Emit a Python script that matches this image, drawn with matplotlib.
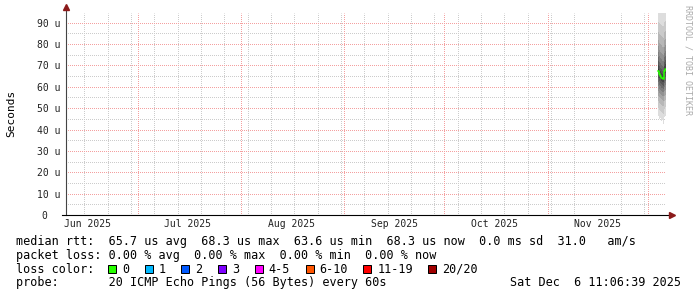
import numpy as np
import matplotlib
matplotlib.use("Agg")
from matplotlib import pyplot as plt
import matplotlib.dates as mdates
from matplotlib.patches import Rectangle
from matplotlib.ticker import MultipleLocator, FuncFormatter
from datetime import datetime, timedelta

W, H = 697, 297
MONO = "DejaVu Sans Mono"

# graph window: last 180 days
end_time = datetime(2025, 12, 6, 11, 6, 39)
start_time = end_time - timedelta(days=180)

# consolidated steps that hold data
step_starts = ["2025-12-04 00:00", "2025-12-04 07:24", "2025-12-04 14:48", "2025-12-04 22:12",
               "2025-12-05 05:36", "2025-12-05 13:00", "2025-12-05 20:24", "2025-12-06 03:48"]

# 20 sorted ping rtts per step, microseconds
pings = [
    [46.5, 50.2, 53.4, 55.8, 58.1, 60.3, 62.2, 64.0, 65.9, 67.1, 68.5, 70.2, 72.0, 74.1, 76.3, 78.9, 82.0, 85.7, 90.4, 97.0],
    [44.8, 49.1, 52.5, 55.0, 57.2, 59.0, 60.9, 62.6, 64.2, 65.4, 66.6, 68.0, 69.7, 71.8, 74.2, 77.1, 80.6, 84.9, 89.8, 96.5],
    [45.3, 48.6, 52.0, 54.6, 56.7, 58.5, 60.2, 61.9, 63.5, 64.6, 65.8, 67.2, 68.9, 71.0, 73.5, 76.4, 79.9, 84.2, 89.3, 95.8],
    [43.9, 48.0, 51.4, 54.1, 56.2, 58.0, 59.6, 61.2, 62.8, 63.9, 65.1, 66.5, 68.2, 70.3, 72.9, 75.8, 79.4, 83.8, 88.9, 96.1],
    [44.5, 47.7, 51.0, 53.7, 55.9, 57.7, 59.3, 60.9, 62.4, 63.5, 64.5, 65.9, 67.6, 69.7, 72.2, 75.2, 78.8, 83.3, 88.6, 95.4],
    [42.8, 47.3, 50.8, 53.5, 55.6, 57.4, 59.0, 60.5, 62.0, 63.1, 64.1, 65.5, 67.2, 69.3, 71.9, 74.9, 78.5, 83.0, 88.2, 95.9],
    [45.9, 49.8, 53.1, 55.6, 57.8, 59.9, 61.8, 63.7, 65.5, 66.9, 68.1, 69.8, 71.6, 73.7, 76.0, 78.7, 81.8, 85.6, 90.2, 97.3],
    [46.2, 50.4, 53.7, 56.2, 58.5, 60.6, 62.6, 64.5, 66.3, 67.7, 68.9, 70.5, 72.3, 74.4, 76.7, 79.3, 82.4, 86.1, 90.6, 97.5],
]
median_rtt = [67.6, 65.8, 65.0, 64.3, 63.9, 63.6, 67.3, 68.3]

loss_labels = ["0", "1", "2", "3", "4-5", "6-10", "11-19", "20/20"]
loss_colors = ["#26ff00", "#00b8ff", "#0059ff", "#7e00ff", "#ff00ff", "#ff5500", "#ff0000", "#a10000"]

rtt_line = "median rtt:  65.7 us avg  68.3 us max  63.6 us min  68.3 us now  0.0 ms sd  31.0   am/s"
loss_line = "packet loss: 0.00 % avg  0.00 % max  0.00 % min  0.00 % now"
color_title = "loss color:"
probe_line = "probe:       20 ICMP Echo Pings (56 Bytes) every 60s"
stamp = "Sat Dec  6 11:06:39 2025"


def fx(x):
    return x / W


def fy(y):
    return 1 - y / H


fig = plt.figure(figsize=(W / 100, H / 100), dpi=100)
fig.patch.set_facecolor("white")
ax = fig.add_axes([fx(66), 82 / H, 600 / W, 202 / H])
ax.set_xlim(start_time, end_time)
ax.set_ylim(0, 202 / 21.375 * 10)
for s in ax.spines.values():
    s.set_visible(False)

# smoke
t = mdates.date2num([datetime.strptime(s, "%Y-%m-%d %H:%M") for s in step_starts])
edges = np.append(t, mdates.date2num(end_time))
p = np.array(pings)
half = p.shape[1] // 2
for i in range(half):
    g = int(190 / half * (half - i - 1)) + 50
    lo = np.append(p[:, i], p[-1, i])
    hi = np.append(p[:, -1 - i], p[-1, -1 - i])
    ax.fill_between(edges, lo, hi, step="post", color="#%02x%02x%02x" % (g, g, g), lw=0,
                    antialiased=False, zorder=2)
med = np.append(median_rtt, median_rtt[-1])
ax.step(edges, med, where="post", color=loss_colors[0], lw=1.1, zorder=3)

# grid, 1px on / 1px off, offset half a pixel so dots land on whole pixels
dots = (0.5, (1, 1))
grid_kw = dict(lw=0.72, ls=dots)
ax.xaxis.set_minor_locator(mdates.WeekdayLocator(byweekday=mdates.SU))
ax.xaxis.set_major_locator(mdates.MonthLocator(bymonthday=16))
ax.xaxis.set_major_formatter(mdates.DateFormatter("%b %Y"))
ax.grid(which="minor", axis="x", color="#cccccc", **grid_kw)
for m in mdates.MonthLocator().tick_values(start_time, end_time):
    ax.axvline(m, color="#f4a0a0", zorder=1.6, **grid_kw)
ax.yaxis.set_major_locator(MultipleLocator(10))
ax.yaxis.set_minor_locator(MultipleLocator(5))
ax.yaxis.set_major_formatter(FuncFormatter(lambda v, pos: "%d u" % v if v else "0  "))
ax.grid(which="major", axis="y", color="#f4a0a0", **grid_kw)
ax.grid(which="minor", axis="y", color="#cccccc", **grid_kw)
ax.set_axisbelow(True)

ax.tick_params(which="both", length=0, labelsize=7, labelcolor="#222222")
ax.tick_params(axis="y", pad=4.3)
ax.tick_params(axis="x", pad=3.2)
for lab in ax.get_xticklabels() + ax.get_yticklabels():
    lab.set_family(MONO)

# axes with arrows
ax.plot([0, 0], [0, 1 + 3 / 202], transform=ax.transAxes, color="#444444", lw=0.8, clip_on=False, zorder=5)
ax.plot([-4 / 600, 1 + 4 / 600], [0, 0], transform=ax.transAxes, color="black", lw=0.8, clip_on=False, zorder=5)
ax.plot(0, 1 + 6 / 202, marker="^", ms=4, color="#8b1a1a", transform=ax.transAxes, clip_on=False, zorder=6)
ax.plot(1 + 6 / 600, 0, marker=">", ms=4, color="#8b1a1a", transform=ax.transAxes, clip_on=False, zorder=6)

fig.text(fx(11), fy(113.5), "Seconds", rotation=90, ha="center", va="center", family=MONO, size=8)
fig.text(fx(688), fy(60), "RRDTOOL / TOBI OETIKER", rotation=270, ha="center", va="center",
         family=MONO, size=6, color="#aaaaaa")

# legend
cw = 7.1
tx = dict(family=MONO, size=8.5, va="center", ha="left", color="black")
fig.text(fx(16), fy(241.7), rtt_line, **tx)
fig.text(fx(16), fy(255.3), loss_line, **tx)
fig.text(fx(16), fy(269.3), color_title, **tx)
fig.text(fx(16), fy(282.7), probe_line, **tx)
fig.text(fx(681), fy(282.7), stamp, **dict(tx, ha="right"))

bx = 16 + 13 * cw
for lab, c in zip(loss_labels, loss_colors):
    fig.add_artist(Rectangle((fx(bx), fy(269.3 + 4)), 8 / W, 8 / H, transform=fig.transFigure,
                             facecolor=c, edgecolor="black", lw=0.72))
    fig.text(fx(bx + 14), fy(269.3), lab, **tx)
    bx = bx + 14 + len(lab) * cw + 15.5

fig.savefig("out.png", dpi=100)
